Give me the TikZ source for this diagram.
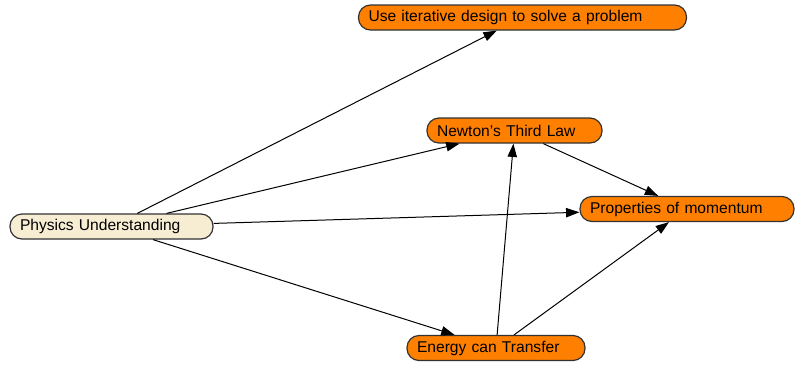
\documentclass[tikz,border=0pt]{standalone}
\usepackage{fontspec}
\setmainfont{Liberation Sans}
\usetikzlibrary{arrows.meta}
\definecolor{nodeorange}{RGB}{255,128,0}
\definecolor{nodebeige}{RGB}{246,237,211}
\definecolor{nodeborder}{RGB}{50,50,50}
\begin{document}
\begin{tikzpicture}[x=0.75pt,y=-0.75pt,
  box/.style={draw=nodeborder, line width=0.9pt, rounded corners=9pt,
    minimum height=25*0.75pt, inner xsep=7.5pt, inner ysep=0pt,
    font=\fontsize{11.7pt}{14pt}\selectfont, align=left, text=black},
  obox/.style={box, fill=nodeorange},
  bbox/.style={box, fill=nodebeige},
  link/.style={draw=black, line width=0.75pt, -{Triangle[length=10pt,width=7pt]}}]
\useasboundingbox (0,0) rectangle (795,365);
\node[bbox, text width=(203-20)*0.75pt] (phys) at (111.5,226.5) {Physics Understanding};
\node[obox, text width=(328-20)*0.75pt] (iter) at (522.5,17.5) {Use iterative design to solve a problem};
\node[obox, text width=(175-20)*0.75pt] (newt) at (514.5,130.5) {Newton's Third Law};
\node[obox, text width=(214-20)*0.75pt] (mom) at (687,209) {Properties of momentum};
\node[obox, text width=(178-20)*0.75pt] (ener) at (496,348) {Energy can Transfer};
\draw[link] (phys) -- (iter);
\draw[link] (phys) -- (newt);
\draw[link] (phys) -- (mom);
\draw[link] (phys) -- (ener);
\draw[link] (ener) -- (newt);
\draw[link] (newt) -- (mom);
\draw[link] (ener) -- (mom);
\end{tikzpicture}
\end{document}
